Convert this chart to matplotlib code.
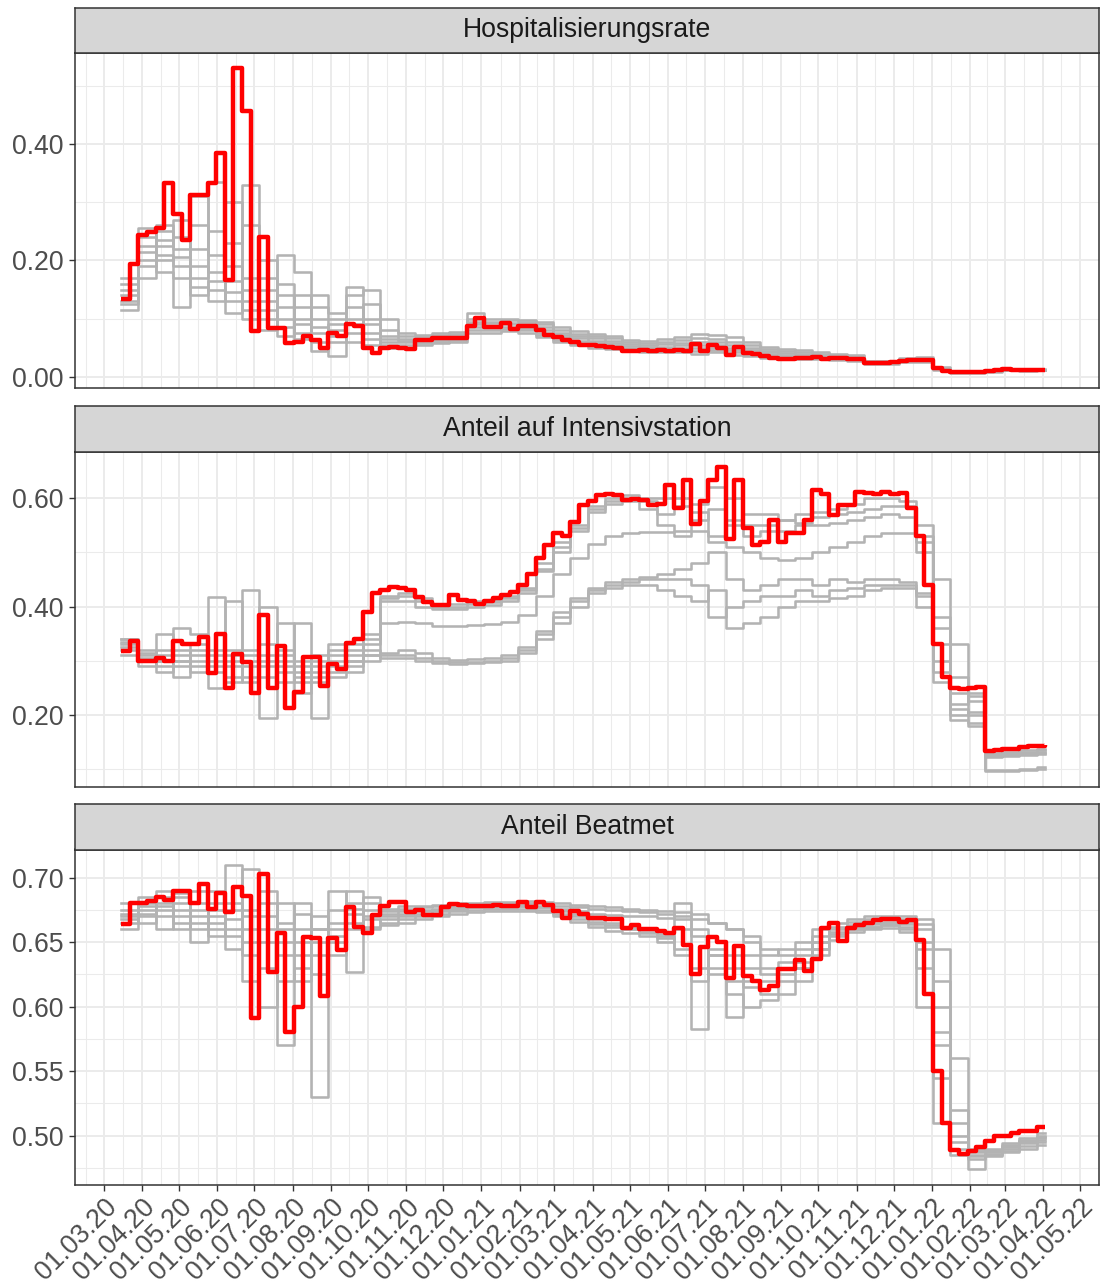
import numpy as np
import matplotlib
matplotlib.use("Agg")
import matplotlib.pyplot as plt
import matplotlib.dates as mdates
from matplotlib.ticker import FormatStrFormatter

plt.rcParams["font.family"] = ["Liberation Sans", "DejaVu Sans"]

# ---------------- data ----------------
start_date = "2020-03-15"      # first weekly value
n_weeks = 108                  # weekly values up to 2022-04-03
panel_titles = ["Hospitalisierungsrate", "Anteil auf Intensivstation", "Anteil Beatmet"]

# red line (weekly)
hosp_red = [0.134, 0.193, 0.244, 0.248, 0.255, 0.333, 0.28, 0.235, 0.313, 0.313,
            0.333, 0.384, 0.166, 0.53, 0.456, 0.078, 0.24, 0.084, 0.084, 0.058,
            0.06, 0.071, 0.063, 0.05, 0.075, 0.07, 0.091, 0.088, 0.05, 0.041,
            0.05, 0.052, 0.05, 0.048, 0.063, 0.064, 0.066, 0.066, 0.067, 0.067,
            0.088, 0.101, 0.086, 0.086, 0.093, 0.082, 0.088, 0.088, 0.081, 0.072,
            0.068, 0.063, 0.06, 0.055, 0.055, 0.053, 0.052, 0.05, 0.044, 0.044,
            0.046, 0.044, 0.046, 0.045, 0.046, 0.045, 0.056, 0.045, 0.055, 0.05,
            0.038, 0.052, 0.041, 0.039, 0.035, 0.032, 0.031, 0.031, 0.032, 0.033,
            0.034, 0.031, 0.032, 0.032, 0.031, 0.030, 0.024, 0.024, 0.024, 0.025,
            0.028, 0.029, 0.029, 0.029, 0.015, 0.010, 0.008, 0.008, 0.008, 0.009,
            0.010, 0.012, 0.013, 0.012, 0.011, 0.011, 0.012, 0.012]
icu_red = [0.318, 0.336, 0.299, 0.299, 0.305, 0.299, 0.336, 0.33, 0.33, 0.343,
           0.278, 0.35, 0.249, 0.313, 0.297, 0.24, 0.385, 0.249, 0.328, 0.212,
           0.243, 0.307, 0.307, 0.254, 0.294, 0.285, 0.333, 0.34, 0.39, 0.425,
           0.43, 0.436, 0.434, 0.43, 0.417, 0.408, 0.402, 0.403, 0.422, 0.412,
           0.41, 0.405, 0.41, 0.415, 0.422, 0.426, 0.44, 0.46, 0.49, 0.513,
           0.535, 0.53, 0.556, 0.587, 0.595, 0.605, 0.608, 0.605, 0.596, 0.598,
           0.596, 0.588, 0.59, 0.624, 0.581, 0.633, 0.553, 0.594, 0.633, 0.658,
           0.525, 0.633, 0.545, 0.513, 0.52, 0.56, 0.52, 0.536, 0.536, 0.56,
           0.615, 0.607, 0.569, 0.587, 0.587, 0.612, 0.61, 0.608, 0.612, 0.608,
           0.61, 0.581, 0.53, 0.44, 0.33, 0.27, 0.25, 0.248, 0.249, 0.252,
           0.133, 0.136, 0.137, 0.138, 0.14, 0.142, 0.143, 0.144]
vent_red = [0.664, 0.68, 0.68, 0.682, 0.685, 0.683, 0.69, 0.69, 0.68, 0.695,
            0.676, 0.688, 0.673, 0.693, 0.686, 0.591, 0.703, 0.627, 0.657, 0.58,
            0.60, 0.654, 0.653, 0.608, 0.653, 0.644, 0.677, 0.662, 0.657, 0.671,
            0.678, 0.681, 0.681, 0.673, 0.675, 0.671, 0.671, 0.677, 0.6795, 0.679,
            0.678, 0.678, 0.678, 0.679, 0.678, 0.678, 0.681, 0.677, 0.681, 0.679,
            0.674, 0.669, 0.674, 0.672, 0.669, 0.669, 0.668, 0.668, 0.661, 0.663,
            0.66, 0.66, 0.659, 0.657, 0.661, 0.648, 0.625, 0.646, 0.654, 0.65,
            0.622, 0.647, 0.624, 0.62, 0.613, 0.616, 0.629, 0.629, 0.636, 0.628,
            0.637, 0.661, 0.665, 0.651, 0.661, 0.663, 0.665, 0.667, 0.668, 0.668,
            0.666, 0.667, 0.652, 0.61, 0.55, 0.51, 0.489, 0.486, 0.488, 0.491,
            0.496, 0.50, 0.50, 0.502, 0.504, 0.504, 0.5065, 0.5065]

# grey lines (earlier estimates, one value every two weeks)
hosp_grey = [
    [0.115, 0.20, 0.18, 0.12, 0.19, 0.13, 0.19, 0.10, 0.13, 0.07, 0.12, 0.045, 0.09, 0.06, 0.10, 0.05,
     0.05, 0.055, 0.058, 0.06, 0.075, 0.075, 0.078, 0.075, 0.068, 0.06,
     0.055, 0.05, 0.048, 0.044, 0.042, 0.042, 0.042, 0.04, 0.042, 0.038,
     0.036, 0.033, 0.032, 0.031, 0.03, 0.029, 0.028, 0.022, 0.022, 0.026,
     0.026, 0.012, 0.007, 0.007, 0.009, 0.011, 0.01, 0.011],
    [0.125, 0.17, 0.225, 0.24, 0.14, 0.165, 0.11, 0.15, 0.20, 0.12, 0.065, 0.085, 0.035, 0.12, 0.065, 0.055,
     0.055, 0.058, 0.06, 0.063, 0.08, 0.08, 0.082, 0.08, 0.072, 0.064,
     0.058, 0.054, 0.052, 0.047, 0.045, 0.045, 0.046, 0.045, 0.046, 0.042,
     0.04, 0.036, 0.034, 0.033, 0.032, 0.031, 0.03, 0.023, 0.023, 0.027,
     0.027, 0.013, 0.0075, 0.0075, 0.0095, 0.012, 0.011, 0.011],
    [0.14, 0.215, 0.26, 0.17, 0.22, 0.25, 0.13, 0.17, 0.08, 0.16, 0.09, 0.06, 0.07, 0.155, 0.055, 0.06,
     0.06, 0.06, 0.063, 0.066, 0.085, 0.085, 0.086, 0.084, 0.076, 0.068,
     0.062, 0.058, 0.055, 0.05, 0.048, 0.048, 0.05, 0.05, 0.05, 0.046,
     0.043, 0.039, 0.036, 0.035, 0.034, 0.033, 0.031, 0.024, 0.024, 0.028,
     0.028, 0.014, 0.008, 0.008, 0.01, 0.012, 0.011, 0.012],
    [0.15, 0.24, 0.20, 0.205, 0.31, 0.18, 0.145, 0.26, 0.15, 0.085, 0.14, 0.10, 0.06, 0.075, 0.125, 0.065,
     0.062, 0.063, 0.066, 0.068, 0.09, 0.088, 0.09, 0.088, 0.08, 0.072,
     0.066, 0.062, 0.058, 0.053, 0.052, 0.052, 0.054, 0.055, 0.055, 0.05,
     0.046, 0.042, 0.038, 0.037, 0.036, 0.035, 0.033, 0.025, 0.025, 0.029,
     0.029, 0.015, 0.008, 0.008, 0.01, 0.013, 0.011, 0.012],
    [0.16, 0.19, 0.235, 0.27, 0.17, 0.335, 0.165, 0.115, 0.115, 0.10, 0.10, 0.075, 0.08, 0.10, 0.09, 0.07,
     0.065, 0.066, 0.068, 0.07, 0.095, 0.092, 0.093, 0.09, 0.085, 0.076,
     0.07, 0.066, 0.062, 0.056, 0.055, 0.056, 0.058, 0.06, 0.06, 0.055,
     0.05, 0.045, 0.041, 0.04, 0.038, 0.036, 0.034, 0.026, 0.026, 0.03,
     0.031, 0.015, 0.0085, 0.0085, 0.0105, 0.013, 0.012, 0.012],
    [0.17, 0.255, 0.21, 0.19, 0.26, 0.21, 0.30, 0.13, 0.17, 0.14, 0.075, 0.14, 0.10, 0.09, 0.075, 0.08,
     0.07, 0.07, 0.072, 0.073, 0.10, 0.095, 0.097, 0.094, 0.09, 0.08,
     0.074, 0.07, 0.066, 0.06, 0.058, 0.06, 0.063, 0.066, 0.065, 0.06,
     0.054, 0.048, 0.044, 0.043, 0.04, 0.038, 0.035, 0.027, 0.027, 0.031,
     0.032, 0.016, 0.009, 0.009, 0.011, 0.013, 0.012, 0.012],
    [0.13, 0.225, 0.25, 0.22, 0.155, 0.15, 0.23, 0.33, 0.10, 0.21, 0.18, 0.12, 0.11, 0.14, 0.15, 0.10,
     0.075, 0.072, 0.075, 0.077, 0.11, 0.10, 0.10, 0.098, 0.095, 0.085,
     0.078, 0.074, 0.07, 0.063, 0.062, 0.065, 0.068, 0.074, 0.072, 0.068,
     0.06, 0.052, 0.047, 0.046, 0.043, 0.04, 0.037, 0.028, 0.028, 0.033,
     0.034, 0.017, 0.009, 0.009, 0.011, 0.014, 0.012, 0.013],
]
icu_grey = [
    [0.34, 0.31, 0.35, 0.30, 0.31, 0.417, 0.30, 0.27, 0.30, 0.29, 0.37, 0.29, 0.31, 0.32, 0.33,
     0.42, 0.425, 0.415, 0.405, 0.405, 0.41, 0.412, 0.42, 0.435, 0.48,
     0.52, 0.55, 0.585, 0.60, 0.605, 0.60, 0.60, 0.60, 0.59, 0.62,
     0.60, 0.57, 0.57, 0.56, 0.57, 0.575, 0.58, 0.59, 0.60, 0.60,
     0.595, 0.53, 0.30, 0.22, 0.235, 0.13, 0.132, 0.135, 0.138],
    [0.33, 0.30, 0.30, 0.27, 0.33, 0.25, 0.41, 0.30, 0.195, 0.32, 0.27, 0.195, 0.28, 0.30, 0.34,
     0.415, 0.42, 0.41, 0.40, 0.40, 0.405, 0.408, 0.415, 0.43, 0.47,
     0.51, 0.545, 0.58, 0.595, 0.60, 0.595, 0.57, 0.585, 0.575, 0.53,
     0.56, 0.55, 0.55, 0.56, 0.555, 0.565, 0.57, 0.575, 0.58, 0.585,
     0.585, 0.55, 0.38, 0.24, 0.225, 0.128, 0.13, 0.132, 0.135],
    [0.32, 0.32, 0.29, 0.32, 0.28, 0.32, 0.27, 0.43, 0.31, 0.26, 0.29, 0.28, 0.33, 0.31, 0.35,
     0.41, 0.41, 0.40, 0.395, 0.395, 0.40, 0.403, 0.41, 0.425, 0.465,
     0.50, 0.54, 0.575, 0.59, 0.595, 0.58, 0.55, 0.53, 0.56, 0.58,
     0.55, 0.53, 0.54, 0.54, 0.55, 0.55, 0.555, 0.56, 0.565, 0.57,
     0.565, 0.50, 0.28, 0.20, 0.205, 0.125, 0.128, 0.13, 0.132],
    [0.335, 0.305, 0.31, 0.31, 0.30, 0.30, 0.29, 0.29, 0.29, 0.30, 0.26, 0.31, 0.27, 0.29, 0.31,
     0.37, 0.372, 0.37, 0.365, 0.364, 0.366, 0.368, 0.372, 0.385, 0.42,
     0.46, 0.49, 0.515, 0.53, 0.535, 0.537, 0.538, 0.54, 0.54, 0.52,
     0.51, 0.50, 0.49, 0.485, 0.49, 0.50, 0.51, 0.52, 0.53, 0.535,
     0.535, 0.52, 0.45, 0.33, 0.24, 0.125, 0.127, 0.128, 0.13],
    [0.325, 0.29, 0.32, 0.29, 0.32, 0.29, 0.32, 0.31, 0.27, 0.31, 0.30, 0.27, 0.29, 0.33, 0.32,
     0.315, 0.32, 0.315, 0.305, 0.302, 0.303, 0.305, 0.31, 0.325, 0.355,
     0.39, 0.415, 0.435, 0.445, 0.45, 0.455, 0.46, 0.47, 0.48, 0.50,
     0.45, 0.43, 0.44, 0.45, 0.45, 0.44, 0.45, 0.445, 0.45, 0.45,
     0.445, 0.40, 0.26, 0.19, 0.18, 0.122, 0.124, 0.126, 0.128],
    [0.31, 0.315, 0.28, 0.36, 0.35, 0.31, 0.26, 0.32, 0.40, 0.28, 0.28, 0.30, 0.30, 0.28, 0.30,
     0.31, 0.31, 0.305, 0.30, 0.298, 0.298, 0.30, 0.305, 0.32, 0.35,
     0.38, 0.41, 0.43, 0.44, 0.445, 0.45, 0.45, 0.45, 0.44, 0.38,
     0.40, 0.41, 0.42, 0.42, 0.43, 0.42, 0.43, 0.435, 0.44, 0.44,
     0.44, 0.425, 0.33, 0.21, 0.185, 0.098, 0.099, 0.101, 0.104],
    [0.34, 0.30, 0.30, 0.30, 0.29, 0.28, 0.31, 0.26, 0.33, 0.37, 0.24, 0.26, 0.32, 0.30, 0.31,
     0.305, 0.305, 0.30, 0.295, 0.294, 0.295, 0.297, 0.30, 0.315, 0.34,
     0.37, 0.40, 0.425, 0.435, 0.44, 0.44, 0.43, 0.42, 0.41, 0.43,
     0.36, 0.37, 0.38, 0.40, 0.41, 0.41, 0.415, 0.42, 0.43, 0.435,
     0.435, 0.42, 0.36, 0.27, 0.20, 0.096, 0.097, 0.099, 0.101],
]
vent_grey = [
    [0.665, 0.675, 0.68, 0.675, 0.67, 0.665, 0.71, 0.65, 0.67, 0.57, 0.64, 0.65, 0.665, 0.68, 0.668,
     0.665, 0.668, 0.67, 0.672, 0.674, 0.675, 0.676, 0.676, 0.676, 0.675,
     0.672, 0.668, 0.664, 0.662, 0.66, 0.658, 0.656, 0.68, 0.655, 0.625,
     0.64, 0.62, 0.61, 0.62, 0.63, 0.645, 0.655, 0.66, 0.662, 0.663,
     0.658, 0.60, 0.51, 0.485, 0.482, 0.485, 0.488, 0.492, 0.495],
    [0.67, 0.68, 0.67, 0.685, 0.65, 0.69, 0.66, 0.675, 0.60, 0.665, 0.68, 0.53, 0.66, 0.672, 0.675,
     0.672, 0.674, 0.675, 0.676, 0.677, 0.678, 0.678, 0.679, 0.679, 0.678,
     0.676, 0.674, 0.672, 0.671, 0.67, 0.67, 0.669, 0.668, 0.668, 0.665,
     0.66, 0.655, 0.645, 0.64, 0.645, 0.655, 0.662, 0.666, 0.668, 0.669,
     0.668, 0.66, 0.60, 0.51, 0.487, 0.488, 0.492, 0.496, 0.499],
    [0.675, 0.67, 0.685, 0.665, 0.68, 0.655, 0.675, 0.707, 0.65, 0.62, 0.63, 0.66, 0.65, 0.627, 0.66,
     0.668, 0.67, 0.672, 0.674, 0.676, 0.677, 0.677, 0.677, 0.678, 0.677,
     0.675, 0.672, 0.668, 0.665, 0.662, 0.66, 0.655, 0.645, 0.62, 0.64,
     0.592, 0.63, 0.625, 0.63, 0.635, 0.65, 0.658, 0.662, 0.664, 0.665,
     0.664, 0.63, 0.545, 0.49, 0.484, 0.486, 0.49, 0.494, 0.497],
    [0.66, 0.685, 0.66, 0.68, 0.69, 0.675, 0.645, 0.66, 0.69, 0.64, 0.66, 0.64, 0.69, 0.66, 0.685,
     0.676, 0.678, 0.678, 0.679, 0.68, 0.68, 0.681, 0.681, 0.682, 0.681,
     0.68, 0.679, 0.678, 0.677, 0.676, 0.675, 0.674, 0.673, 0.672, 0.665,
     0.66, 0.65, 0.64, 0.645, 0.65, 0.66, 0.665, 0.668, 0.67, 0.67,
     0.67, 0.668, 0.645, 0.56, 0.49, 0.49, 0.494, 0.498, 0.502],
    [0.68, 0.665, 0.675, 0.67, 0.66, 0.68, 0.668, 0.64, 0.63, 0.68, 0.62, 0.67, 0.64, 0.69, 0.67,
     0.67, 0.672, 0.674, 0.675, 0.676, 0.677, 0.678, 0.678, 0.678, 0.677,
     0.674, 0.67, 0.666, 0.663, 0.66, 0.657, 0.653, 0.64, 0.583, 0.63,
     0.61, 0.60, 0.605, 0.61, 0.62, 0.64, 0.652, 0.658, 0.66, 0.661,
     0.66, 0.645, 0.57, 0.495, 0.474, 0.484, 0.487, 0.49, 0.493],
    [0.672, 0.678, 0.678, 0.66, 0.675, 0.66, 0.68, 0.67, 0.66, 0.65, 0.65, 0.625, 0.675, 0.665, 0.68,
     0.674, 0.676, 0.677, 0.678, 0.679, 0.679, 0.68, 0.68, 0.68, 0.68,
     0.678, 0.677, 0.676, 0.675, 0.674, 0.673, 0.672, 0.67, 0.66, 0.64,
     0.62, 0.615, 0.62, 0.625, 0.63, 0.645, 0.656, 0.66, 0.662, 0.663,
     0.662, 0.65, 0.58, 0.50, 0.485, 0.487, 0.491, 0.495, 0.498],
    [0.668, 0.672, 0.69, 0.688, 0.665, 0.67, 0.655, 0.62, 0.68, 0.66, 0.672, 0.66, 0.655, 0.676, 0.662,
     0.663, 0.665, 0.668, 0.67, 0.672, 0.673, 0.674, 0.674, 0.674, 0.673,
     0.67, 0.666, 0.662, 0.659, 0.657, 0.655, 0.65, 0.66, 0.63, 0.645,
     0.63, 0.64, 0.63, 0.635, 0.64, 0.65, 0.66, 0.663, 0.665, 0.666,
     0.666, 0.664, 0.62, 0.52, 0.488, 0.489, 0.493, 0.497, 0.5],
]

y_major = [[0.0, 0.2, 0.4], [0.2, 0.4, 0.6], [0.50, 0.55, 0.60, 0.65, 0.70]]
y_minor = [[0.1, 0.3, 0.5], [0.1, 0.3, 0.5], [0.475, 0.525, 0.575, 0.625, 0.675]]

# ---------------- figure ----------------
W, H = 1102, 1285
fig = plt.figure(figsize=(W / 100, H / 100), dpi=100)
fig.patch.set_facecolor("white")

weeks = np.datetime64(start_date) + np.arange(n_weeks) * 7
xw = mdates.date2num(weeks)
xg = xw[::2]

months = np.arange(np.datetime64("2020-02"), np.datetime64("2022-07"), dtype="datetime64[M]").astype("datetime64[D]")
mnum = mdates.date2num(months)
major_x = mnum[1:-1]                       # 01.03.20 ... 01.05.22
minor_x = (mnum[:-1] + mnum[1:]) / 2.0

span = xw[-1] - xw[0]
xlim = (xw[0] - 0.05 * span, xw[-1] + 0.05 * span)

reds = [hosp_red, icu_red, vent_red]
greys = [hosp_grey, icu_grey, vent_grey]

left, right = 75, 1099
strip_top = [7.5, 406, 804]
strip_h = 45.5
panel_h = 335

axes = []
for i in range(3):
    ptop = strip_top[i] + strip_h
    ax = fig.add_axes([left / W, 1 - (ptop + panel_h) / H, (right - left) / W, panel_h / H])
    sax = fig.add_axes([left / W, 1 - ptop / H, (right - left) / W, strip_h / H])
    sax.set_facecolor("#D6D6D6")
    sax.set_xticks([]); sax.set_yticks([])
    for s in sax.spines.values():
        s.set_color("#333333"); s.set_linewidth(1.1)
    sax.text(0.5, 0.5, panel_titles[i], ha="center", va="center", fontsize=19.2,
             color="#1A1A1A", transform=sax.transAxes)

    allvals = list(reds[i])
    for g in greys[i]:
        xs = np.append(xg[:len(g)], xw[-1])
        ys = list(g) + [g[-1]]
        ax.step(xs, ys, where="post", color="#B3B3B3", lw=1.85, zorder=2,
                solid_joinstyle="round")
        allvals += list(g)
    ax.step(xw[:len(reds[i])], reds[i], where="post", color="#FF0000", lw=3.2, zorder=3,
            solid_joinstyle="round", solid_capstyle="butt")

    lo, hi = min(allvals), max(allvals)
    ax.set_ylim(lo - 0.05 * (hi - lo), hi + 0.05 * (hi - lo))
    ax.set_xlim(*xlim)

    ax.set_xticks(major_x)
    ax.set_xticks(minor_x, minor=True)
    ax.set_yticks(y_major[i])
    ax.set_yticks(y_minor[i], minor=True)
    ax.yaxis.set_major_formatter(FormatStrFormatter("%.2f"))
    ax.set_axisbelow(True)
    ax.grid(which="major", color="#EBEBEB", lw=1.4)
    ax.grid(which="minor", color="#EBEBEB", lw=0.75)
    ax.tick_params(which="minor", length=0)
    ax.tick_params(axis="y", which="major", length=4, width=1.0, color="#333333",
                   labelsize=19.2, labelcolor="#4D4D4D", pad=4)
    if i < 2:
        ax.tick_params(axis="x", which="major", length=0, labelbottom=False)
    else:
        ax.xaxis.set_major_formatter(mdates.DateFormatter("%d.%m.%y"))
        ax.tick_params(axis="x", which="major", length=4, width=1.0, color="#333333",
                       labelsize=19.2, labelcolor="#4D4D4D", pad=3)
        for lab in ax.get_xticklabels():
            lab.set_rotation(45)
            lab.set_ha("right")
            lab.set_va("top")
            lab.set_rotation_mode("anchor")
    for s in ax.spines.values():
        s.set_color("#333333"); s.set_linewidth(1.1)
    ax.set_facecolor("white")
    axes.append(ax)

fig.savefig("out.png", dpi=100, facecolor="white")
